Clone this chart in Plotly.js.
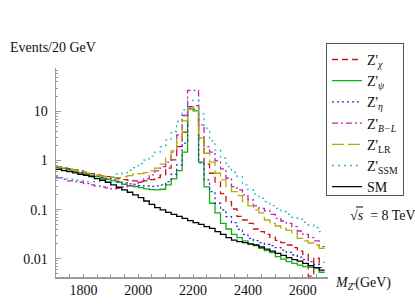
<!DOCTYPE html>
<html>
<head>
<meta charset="utf-8">
<script src="https://cdn.plot.ly/plotly-3.0.1.min.js"></script>
</head>
<body style="margin:0">
<div id="chart"></div>
<script>
// Histogram binning (GeV)
const binStart = 1700;
const binWidth = 20;

// Events / 20 GeV, one value per bin (1700-1720, 1720-1740, ... 2660-2680)
const smVals = [0.665,0.625,0.596,0.56,0.526,0.502,0.471,0.429,0.397,0.361,0.319,0.286,0.252,0.226,0.199,0.176,0.150,0.128,0.110,0.0985,0.0883,0.0803,0.0731,0.0665,0.0597,0.0543,0.0502,0.045,0.0416,0.0356,0.0314,0.0268,0.024,0.0222,0.0212,0.0199,0.019,0.0173,0.0157,0.0143,0.0128,0.0117,0.0105,0.00955,0.00896,0.00803,0.0072,0.00655,0.00587];
const chiVals = [0.743,0.72,0.687,0.645,0.615,0.578,0.543,0.518,0.494,0.471,0.45,0.429,0.409,0.397,0.385,0.379,0.385,0.409,0.45,0.51,0.698,1.03,1.93,3.79,12.6,13.1,2.95,0.842,0.551,0.361,0.212,0.146,0.103,0.0731,0.0615,0.0526,0.0403,0.0356,0.0314,0.0272,0.0237,0.0212,0.019,0.0168,0.0143,0.0123,0.0044,0.0102,0.0084];
const psiVals = [0.72,0.687,0.645,0.596,0.56,0.526,0.494,0.471,0.436,0.416,0.385,0.361,0.329,0.309,0.295,0.281,0.264,0.256,0.252,0.26,0.319,0.422,0.625,1.48,11.2,10.3,0.925,0.29,0.135,0.0855,0.0526,0.0403,0.0314,0.0268,0.023,0.0202,0.0184,0.0163,0.0146,0.0133,0.011,0.0098,0.0087,0.008,0.0074,0.0069,0.0067,0.0064,0.0053];
const etaVals = [0.72,0.687,0.655,0.615,0.578,0.543,0.518,0.486,0.457,0.429,0.403,0.379,0.35,0.334,0.319,0.309,0.304,0.299,0.304,0.319,0.373,0.526,0.816,2.26,11.7,11.2,0.896,0.403,0.233,0.135,0.0985,0.0719,0.0543,0.0397,0.0314,0.026,0.0233,0.0212,0.0196,0.0184,0.0168,0.015,0.0135,0.0119,0.0108,0.0097,0.0087,0.0077,0.0066];
const blVals = [0.443,0.416,0.385,0.373,0.361,0.34,0.319,0.304,0.29,0.277,0.264,0.272,0.29,0.304,0.329,0.361,0.422,0.51,0.615,0.755,0.925,1.48,3.34,8.28,26.8,26.8,5.35,1.93,1.48,0.984,0.676,0.436,0.295,0.252,0.199,0.157,0.119,0.106,0.094,0.0803,0.0665,0.0587,0.0526,0.045,0.0367,0.0314,0.0268,0.023,0.0176];
const lrVals = [0.743,0.708,0.676,0.635,0.596,0.56,0.526,0.502,0.479,0.464,0.45,0.45,0.464,0.494,0.526,0.543,0.569,0.615,0.698,0.842,1.12,1.57,2.86,6.45,11.2,12.5,2.86,1.41,0.925,0.551,0.403,0.295,0.233,0.193,0.146,0.119,0.0985,0.0855,0.0615,0.0526,0.0464,0.0416,0.0379,0.0334,0.026,0.023,0.0209,0.019,0.0163];
const ssmVals = [0.471,0.45,0.422,0.397,0.385,0.373,0.373,0.373,0.385,0.409,0.464,0.526,0.56,0.635,0.72,0.869,1.016,1.23,1.48,1.93,2.64,3.91,6.25,10.8,16.8,16.8,8.96,4.57,2.52,1.65,1.12,0.755,0.578,0.471,0.319,0.252,0.206,0.17,0.146,0.121,0.106,0.091,0.0803,0.0698,0.0635,0.0551,0.0486,0.043,0.0356];

// Axis ticks
const xTickVals = [1800, 2000, 2200, 2400, 2600];
const yTickVals = [0.01, 0.1, 1, 10];
const yTickText = ["0.01", "0.1", "1", "10"];

const seriesNames = ["Z'<sub><i>χ</i></sub>", "Z'<sub><i>ψ</i></sub>", "Z'<sub><i>η</i></sub>",
                     "Z'<sub><i>B−L</i></sub>", "Z'<sub>LR</sub>", "Z'<sub>SSM</sub>", "SM"];
const seriesVals = [chiVals, psiVals, etaVals, blVals, lrVals, ssmVals, smVals];
const seriesColors = ["#c81414", "#10b010", "#2a2ac8", "#c020c0", "#b4ac00", "#22b8b8", "#000000"];
const seriesDash = ["6px,4px", "solid", "2px,3px", "6px,3px,2px,3px", "12px,4px", "2px,4px", "solid"];

function stepXY(vals) {
  const x = [], y = [];
  for (let i = 0; i < vals.length; i++) { x.push(binStart + i * binWidth); y.push(vals[i]); }
  x.push(binStart + vals.length * binWidth); y.push(vals[vals.length - 1]);
  return {x, y};
}

const traces = seriesVals.map((vals, i) => {
  const s = stepXY(vals);
  return {
    type: 'scatter', mode: 'lines', x: s.x, y: s.y, name: seriesNames[i],
    line: {shape: 'hv', color: seriesColors[i], width: 1.3, dash: seriesDash[i]},
    hoverinfo: 'skip'
  };
});

const yMinor = [];
for (let e = -3; e <= 1; e++) for (let m = 2; m <= 9; m++) yMinor.push(m * Math.pow(10, e));

const fam = 'Liberation Serif';
const txt = '#111';

const layout = {
  width: 415, height: 307,
  margin: {l: 56, r: 86, t: 68, b: 30, pad: 0},
  paper_bgcolor: '#fff', plot_bgcolor: '#fff',
  showlegend: true,
  legend: {
    x: 0.989, y: 1.12, xanchor: 'left', yanchor: 'top',
    bordercolor: '#555', borderwidth: 1, bgcolor: '#fff',
    font: {family: fam, size: 14, color: txt},
    tracegroupgap: 0, itemwidth: 30
  },
  xaxis: {
    range: [1700, 2692], showgrid: false, zeroline: false,
    showline: true, linecolor: '#999', linewidth: 1.5,
    tickmode: 'array', tickvals: xTickVals,
    ticks: 'inside', ticklen: 3, tickcolor: '#999', tickwidth: 1,
    minor: {dtick: 50, ticks: 'inside', ticklen: 3, tickcolor: '#999', tickwidth: 1},
    tickfont: {family: fam, size: 14, color: txt}
  },
  yaxis: {
    type: 'log', range: [-2.373, 1.886], showgrid: false, zeroline: false,
    showline: true, linecolor: '#999', linewidth: 1.5,
    tickmode: 'array', tickvals: yTickVals, ticktext: yTickText,
    ticks: 'inside', ticklen: 5, tickcolor: '#999', tickwidth: 1,
    minor: {tickmode: 'array', tickvals: yMinor, ticks: 'inside', ticklen: 2, tickcolor: '#999', tickwidth: 1},
    tickfont: {family: fam, size: 14, color: txt},
    ticklabelstandoff: 4
  },
  annotations: [
    {xref: 'paper', yref: 'paper', x: -0.176, y: 1.10, xanchor: 'left', yanchor: 'middle',
     text: 'Events/20 GeV', showarrow: false, font: {family: fam, size: 14, color: txt}},
    {xref: 'paper', yref: 'paper', x: 1.018, y: -0.029, xanchor: 'left', yanchor: 'middle',
     text: "<i>M</i><sub><i>Z'</i></sub>(GeV)", showarrow: false, font: {family: fam, size: 14, color: txt}},
    {xref: 'paper', yref: 'paper', x: 1.075, y: 0.292, xanchor: 'left', yanchor: 'middle',
     text: '√<i>s</i>  = 8 TeV', showarrow: false, font: {family: fam, size: 14, color: txt}}
  ],
  shapes: [
    {type: 'line', xref: 'paper', yref: 'paper', x0: 1.103, x1: 1.129, y0: 0.335, y1: 0.335,
     line: {color: '#000', width: 1}}
  ]
};

Plotly.newPlot('chart', traces, layout, {displayModeBar: false, staticPlot: true});
</script>
</body>
</html>
